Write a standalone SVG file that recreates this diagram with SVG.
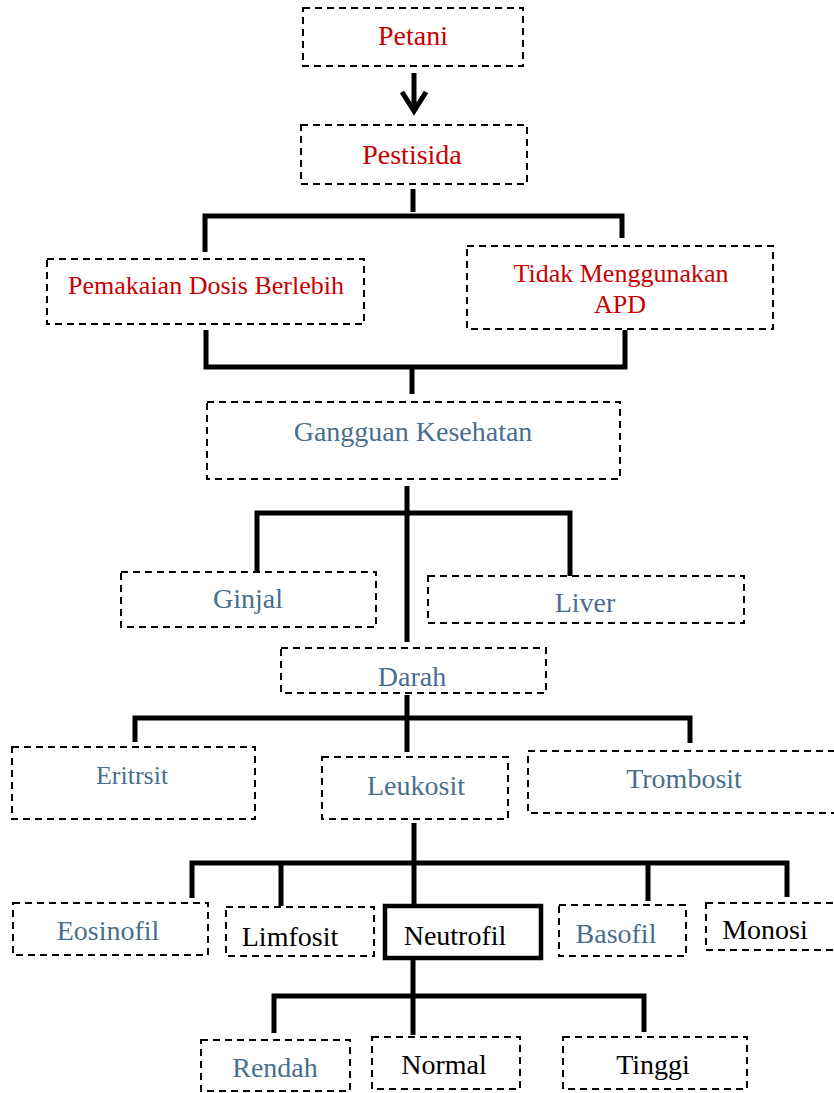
<svg xmlns="http://www.w3.org/2000/svg" width="834" height="1093" viewBox="0 0 834 1093">
<style>
.box{fill:none;stroke:#000;stroke-width:2;stroke-dasharray:7,5}
.solid{fill:none;stroke:#000;stroke-width:4.5}
.t{font-family:"Liberation Serif","Times New Roman",serif;font-size:28px;text-anchor:middle}
.red{fill:#c80000}
.blue{fill:#4a6e8e}
.blk{fill:#000}
.con{fill:none;stroke:#000;stroke-width:5;stroke-linecap:butt;stroke-linejoin:miter}
</style>
<rect width="834" height="1093" fill="#fff"/>
<g id="connectors">
<path class="con" d="M414,73 V112 M402,92 L414,111 L426,92"/>
<path class="con" d="M413,189 V212 M205,252 V216 H622 V238"/>
<path class="con" d="M206,330 V367 H625 V330 M412,367 V394"/>
<path class="con" d="M407,486 V642 M257,572 V513 H570 V576"/>
<path class="con" d="M407,695 V752 M135,742 V718 H690 V743"/>
<path class="con" d="M414,823 V905 M192,898 V863 H787 V897 M281,863 V906 M648,863 V901"/>
<path class="con" d="M413,958 V1035 M274,1033 V996 H644 V1032"/>
</g>
<g id="petani"><rect class="box" x="303" y="8" width="220" height="58"/><text class="t red" x="413" y="45">Petani</text></g>
<g id="pestisida"><rect class="box" x="301" y="125" width="226" height="59"/><text class="t red" x="412" y="164">Pestisida</text></g>
<g id="pemakaian"><rect class="box" x="47" y="259" width="317" height="65"/><text class="t red" x="206" y="294" style="font-size:26px">Pemakaian Dosis Berlebih</text></g>
<g id="tidak-apd"><rect class="box" x="467" y="246" width="306" height="83"/><text class="t red" x="621" y="282" style="font-size:26px">Tidak Menggunakan</text><text class="t red" x="620" y="313" style="font-size:26px">APD</text></g>
<g id="gangguan"><rect class="box" x="207" y="402" width="413" height="77"/><text class="t blue" x="413" y="441">Gangguan Kesehatan</text></g>
<g id="ginjal"><rect class="box" x="121" y="572" width="255" height="55"/><text class="t blue" x="248" y="608">Ginjal</text></g>
<g id="liver"><rect class="box" x="428" y="576" width="316" height="47"/><text class="t blue" x="585" y="612">Liver</text></g>
<g id="darah"><rect class="box" x="281" y="648" width="265" height="45"/><text class="t blue" x="412" y="686">Darah</text></g>
<g id="eritrsit"><rect class="box" x="12" y="747" width="243" height="72"/><text class="t blue" x="132" y="784" style="font-size:26px">Eritrsit</text></g>
<g id="leukosit"><rect class="box" x="322" y="757" width="186" height="62"/><text class="t blue" x="416" y="795">Leukosit</text></g>
<g id="trombosit"><rect class="box" x="528" y="751" width="310" height="62"/><text class="t blue" x="684" y="788">Trombosit</text></g>
<g id="eosinofil"><rect class="box" x="13" y="903" width="195" height="52"/><text class="t blue" x="108" y="940">Eosinofil</text></g>
<g id="limfosit"><rect class="box" x="226" y="907" width="148" height="49"/><text class="t blk" x="290" y="946">Limfosit</text></g>
<g id="neutrofil"><rect class="solid" x="385" y="906" width="156" height="52"/><text class="t blk" x="455" y="945">Neutrofil</text></g>
<g id="basofil"><rect class="box" x="559" y="905" width="127" height="51"/><text class="t blue" x="616" y="943">Basofil</text></g>
<g id="monosi"><rect class="box" x="706" y="903" width="130" height="47"/><text class="t blk" x="765" y="939">Monosi</text></g>
<g id="rendah"><rect class="box" x="201" y="1040" width="149" height="51"/><text class="t blue" x="275" y="1077">Rendah</text></g>
<g id="normal"><rect class="box" x="372" y="1037" width="148" height="52"/><text class="t blk" x="444" y="1074">Normal</text></g>
<g id="tinggi"><rect class="box" x="563" y="1037" width="184" height="52"/><text class="t blk" x="653" y="1074">Tinggi</text></g>
</svg>
